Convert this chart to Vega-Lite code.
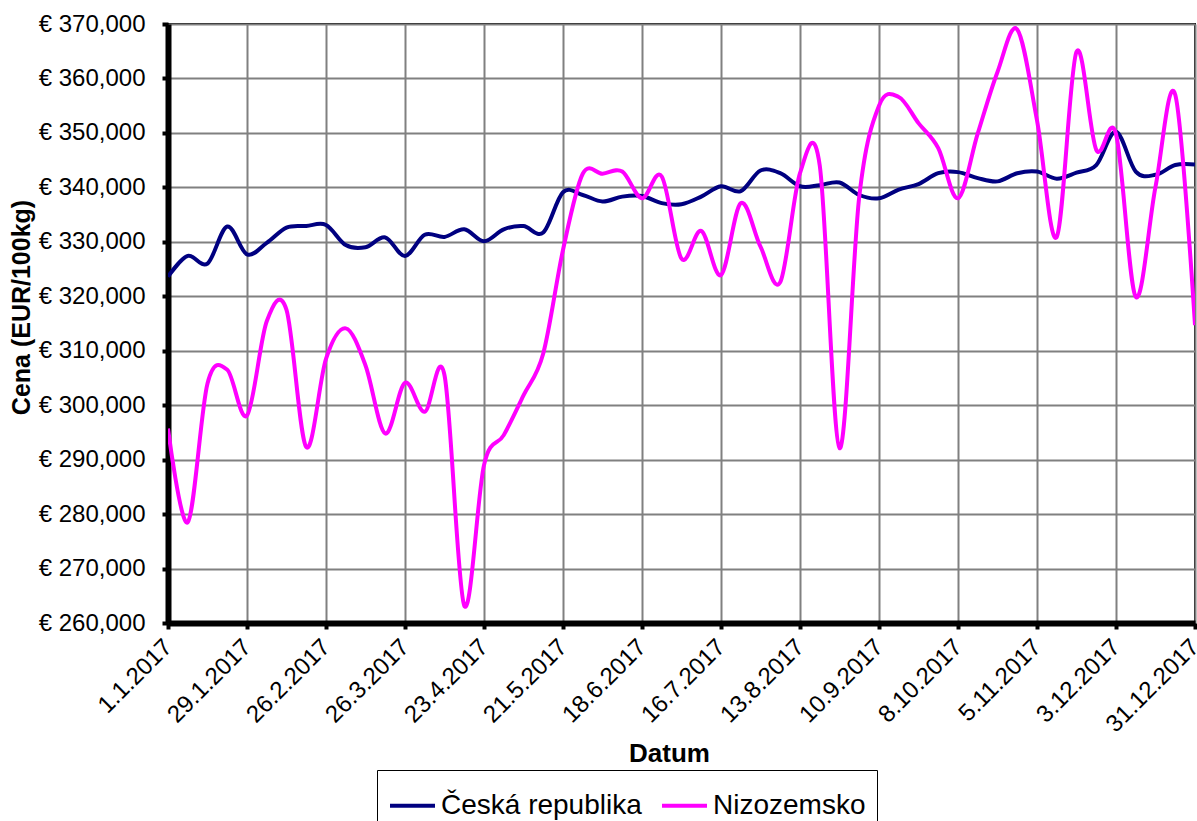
{
  "$schema": "https://vega.github.io/schema/vega-lite/v6.json",
  "width": 1027,
  "height": 599,
  "autosize": {"type": "none"},
  "padding": {"left": 168, "top": 24, "right": 2, "bottom": 198},
  "background": "white",
  "config": {
    "font": "Liberation Sans",
    "view": {"stroke": "black", "strokeWidth": 2}
  },
  "datasets": {
    "cz": [
      {"den": "2017-01-01", "cena": 323.6}, {"den": "2017-01-08", "cena": 327.4}, {"den": "2017-01-15", "cena": 326.0}, {"den": "2017-01-22", "cena": 332.8},
      {"den": "2017-01-29", "cena": 327.7}, {"den": "2017-02-05", "cena": 329.8}, {"den": "2017-02-12", "cena": 332.6}, {"den": "2017-02-19", "cena": 332.9},
      {"den": "2017-02-26", "cena": 333.1}, {"den": "2017-03-05", "cena": 329.4}, {"den": "2017-03-12", "cena": 329.0}, {"den": "2017-03-19", "cena": 330.8},
      {"den": "2017-03-26", "cena": 327.4}, {"den": "2017-04-02", "cena": 331.3}, {"den": "2017-04-09", "cena": 330.9}, {"den": "2017-04-16", "cena": 332.3},
      {"den": "2017-04-23", "cena": 330.1}, {"den": "2017-04-30", "cena": 332.3}, {"den": "2017-05-07", "cena": 332.9}, {"den": "2017-05-14", "cena": 331.7},
      {"den": "2017-05-21", "cena": 339.1}, {"den": "2017-05-28", "cena": 338.6}, {"den": "2017-06-04", "cena": 337.4}, {"den": "2017-06-11", "cena": 338.3},
      {"den": "2017-06-18", "cena": 338.4}, {"den": "2017-06-25", "cena": 337.1}, {"den": "2017-07-02", "cena": 336.9}, {"den": "2017-07-09", "cena": 338.3},
      {"den": "2017-07-16", "cena": 340.2}, {"den": "2017-07-23", "cena": 339.3}, {"den": "2017-07-30", "cena": 343.1}, {"den": "2017-08-06", "cena": 342.6},
      {"den": "2017-08-13", "cena": 340.2}, {"den": "2017-08-20", "cena": 340.4}, {"den": "2017-08-27", "cena": 340.9}, {"den": "2017-09-03", "cena": 338.6},
      {"den": "2017-09-10", "cena": 338.0}, {"den": "2017-09-17", "cena": 339.6}, {"den": "2017-09-24", "cena": 340.6}, {"den": "2017-10-01", "cena": 342.6},
      {"den": "2017-10-08", "cena": 342.8}, {"den": "2017-10-15", "cena": 341.7}, {"den": "2017-10-22", "cena": 341.1}, {"den": "2017-10-29", "cena": 342.6},
      {"den": "2017-11-05", "cena": 342.9}, {"den": "2017-11-12", "cena": 341.6}, {"den": "2017-11-19", "cena": 342.7}, {"den": "2017-11-26", "cena": 344.1},
      {"den": "2017-12-03", "cena": 350.2}, {"den": "2017-12-10", "cena": 342.9}, {"den": "2017-12-17", "cena": 342.3}, {"den": "2017-12-24", "cena": 344.1},
      {"den": "2017-12-31", "cena": 344.2}
    ],
    "nl": [
      {"den": "2017-01-01", "cena": 295.7}, {"den": "2017-01-08", "cena": 278.5}, {"den": "2017-01-15", "cena": 304.0}, {"den": "2017-01-22", "cena": 306.5},
      {"den": "2017-01-29", "cena": 298.1}, {"den": "2017-02-05", "cena": 315.4}, {"den": "2017-02-12", "cena": 317.5}, {"den": "2017-02-19", "cena": 292.3},
      {"den": "2017-02-26", "cena": 308.5}, {"den": "2017-03-05", "cena": 314.1}, {"den": "2017-03-12", "cena": 307.3}, {"den": "2017-03-19", "cena": 294.8},
      {"den": "2017-03-26", "cena": 304.1}, {"den": "2017-04-02", "cena": 298.8}, {"den": "2017-04-09", "cena": 305.5}, {"den": "2017-04-16", "cena": 263.2},
      {"den": "2017-04-23", "cena": 289.0}, {"den": "2017-04-30", "cena": 294.5}, {"den": "2017-05-07", "cena": 301.8}, {"den": "2017-05-14", "cena": 309.5},
      {"den": "2017-05-21", "cena": 328.5}, {"den": "2017-05-28", "cena": 342.5}, {"den": "2017-06-04", "cena": 342.5}, {"den": "2017-06-11", "cena": 342.9},
      {"den": "2017-06-18", "cena": 338.0}, {"den": "2017-06-25", "cena": 342.0}, {"den": "2017-07-02", "cena": 326.9}, {"den": "2017-07-09", "cena": 332.0},
      {"den": "2017-07-16", "cena": 323.9}, {"den": "2017-07-23", "cena": 337.1}, {"den": "2017-07-30", "cena": 329.1}, {"den": "2017-08-06", "cena": 322.6},
      {"den": "2017-08-13", "cena": 342.6}, {"den": "2017-08-20", "cena": 344.0}, {"den": "2017-08-27", "cena": 292.1}, {"den": "2017-09-03", "cena": 338.3},
      {"den": "2017-09-10", "cena": 355.0}, {"den": "2017-09-17", "cena": 356.6}, {"den": "2017-09-24", "cena": 351.8}, {"den": "2017-10-01", "cena": 347.2},
      {"den": "2017-10-08", "cena": 338.0}, {"den": "2017-10-15", "cena": 349.9}, {"den": "2017-10-22", "cena": 361.2}, {"den": "2017-10-29", "cena": 369.0},
      {"den": "2017-11-05", "cena": 352.3}, {"den": "2017-11-12", "cena": 330.9}, {"den": "2017-11-19", "cena": 364.9}, {"den": "2017-11-26", "cena": 346.9},
      {"den": "2017-12-03", "cena": 349.8}, {"den": "2017-12-10", "cena": 319.9}, {"den": "2017-12-17", "cena": 340.1}, {"den": "2017-12-24", "cena": 357.0},
      {"den": "2017-12-31", "cena": 314.7}
    ]
  },
  "layer": [
    {
      "data": {"name": "cz"},
      "mark": {"type": "line", "interpolate": "cardinal", "strokeWidth": 4, "clip": true},
      "encoding": {
        "x": {"field": "den", "type": "temporal"},
        "y": {"field": "cena", "type": "quantitative"},
        "color": {"datum": "Česká republika", "type": "nominal"}
      }
    },
    {
      "data": {"name": "nl"},
      "mark": {"type": "line", "interpolate": "cardinal", "strokeWidth": 4, "clip": true},
      "encoding": {
        "x": {"field": "den", "type": "temporal"},
        "y": {"field": "cena", "type": "quantitative"},
        "color": {"datum": "Nizozemsko", "type": "nominal"}
      }
    }
  ],
  "encoding": {
    "x": {
      "field": "den",
      "type": "temporal",
      "scale": {"type": "utc", "domain": ["2017-01-01", "2017-12-31"], "nice": false},
      "axis": {
        "title": "Datum",
        "titleFontSize": 26,
        "titleFontWeight": "bold",
        "titleColor": "black",
        "titlePadding": 4,
        "titleX": 501,
        "format": "%-d.%-m.%Y",
        "values": ["2017-01-01", "2017-01-29", "2017-02-26", "2017-03-26", "2017-04-23", "2017-05-21", "2017-06-18", "2017-07-16", "2017-08-13", "2017-09-10", "2017-10-08", "2017-11-05", "2017-12-03", "2017-12-31"],
        "labelAngle": -45,
        "labelAlign": "right",
        "labelBaseline": "middle",
        "labelFontSize": 24,
        "labelColor": "black",
        "labelPadding": 14,
        "labelDx": -9,
        "labelOverlap": false,
        "labelFlush": false,
        "domainColor": "black",
        "domainWidth": 6,
        "tickColor": "black",
        "tickWidth": 4,
        "tickSize": 6,
        "grid": true,
        "gridColor": "#808080",
        "gridWidth": 2
      }
    },
    "y": {
      "field": "cena",
      "type": "quantitative",
      "scale": {"domain": [260, 370], "nice": false, "zero": false},
      "axis": {
        "title": "Cena (EUR/100kg)",
        "titleFontSize": 25,
        "titleFontWeight": "bold",
        "titleColor": "black",
        "titlePadding": 4,
        "titleY": 283,
        "values": [260, 270, 280, 290, 300, 310, 320, 330, 340, 350, 360, 370],
        "labelExpr": "'€ ' + replace(format(datum.value, '.3f'), '.', ',')",
        "labelFontSize": 24,
        "labelColor": "black",
        "labelPadding": 17,
        "labelFlush": false,
        "domainColor": "black",
        "domainWidth": 6,
        "tickColor": "black",
        "tickWidth": 4,
        "tickSize": 6,
        "grid": true,
        "gridColor": "#808080",
        "gridWidth": 2
      }
    },
    "color": {
      "type": "nominal",
      "scale": {"domain": ["Česká republika", "Nizozemsko"], "range": ["#000080", "#FF00FF"]},
      "legend": {
        "title": null,
        "orient": "none",
        "legendX": 209,
        "legendY": 746,
        "direction": "horizontal",
        "symbolType": "stroke",
        "symbolSize": 2025,
        "symbolStrokeWidth": 4,
        "labelFontSize": 28,
        "labelColor": "black",
        "labelOffset": 4,
        "labelLimit": 400,
        "columnPadding": 12,
        "padding": 11,
        "strokeColor": "black"
      }
    }
  }
}
